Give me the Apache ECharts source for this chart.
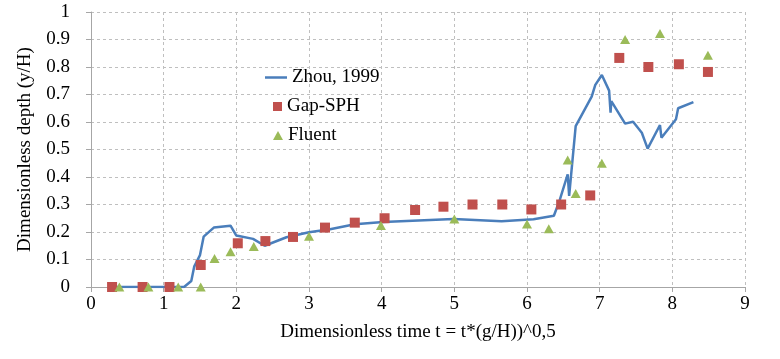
<!DOCTYPE html>
<html>
<head>
<meta charset="utf-8">
<script src="https://cdn.jsdelivr.net/npm/echarts@6/dist/echarts.min.js"></script>
<style>
html, body { margin: 0; padding: 0; background: #fff; }
#main { width: 780px; height: 359px; }
</style>
</head>
<body>
<div id="main"></div>
<script>
// Zhou, 1999 (courbe)
var zhouX = [0.30, 1.28, 1.38, 1.42, 1.50, 1.55, 1.69, 1.92, 2.00, 2.23, 2.39, 2.69, 3.00, 3.29, 3.63, 4.02, 4.99, 5.65, 6.09, 6.37, 6.45, 6.56, 6.58, 6.67, 6.89, 6.94, 7.03, 7.13, 7.15, 7.16, 7.35, 7.46, 7.58, 7.66, 7.83, 7.85, 8.05, 8.08, 8.29];
var zhouY = [0, 0, 0.022, 0.074, 0.116, 0.183, 0.216, 0.223, 0.187, 0.175, 0.150, 0.181, 0.199, 0.210, 0.228, 0.236, 0.247, 0.239, 0.246, 0.259, 0.316, 0.410, 0.331, 0.585, 0.692, 0.735, 0.771, 0.714, 0.634, 0.676, 0.594, 0.601, 0.561, 0.503, 0.589, 0.543, 0.610, 0.650, 0.672];

// Gap-SPH (carrés)
var sphX = [0.29, 0.71, 1.08, 1.51, 2.02, 2.40, 2.78, 3.22, 3.63, 4.04, 4.46, 4.85, 5.25, 5.66, 6.06, 6.47, 6.87, 7.27, 7.67, 8.09, 8.49];
var sphY = [0, 0, 0, 0.080, 0.159, 0.167, 0.182, 0.216, 0.234, 0.250, 0.280, 0.292, 0.300, 0.300, 0.282, 0.300, 0.333, 0.833, 0.800, 0.810, 0.782];

// Fluent (triangles)
var fluentX = [0.39, 0.79, 1.20, 1.51, 1.70, 1.92, 2.24, 3.00, 3.99, 5.00, 6.00, 6.30, 6.56, 6.67, 7.03, 7.35, 7.83, 8.49];
var fluentY = [0, 0, 0, 0, 0.104, 0.128, 0.147, 0.185, 0.224, 0.247, 0.229, 0.212, 0.462, 0.340, 0.450, 0.900, 0.922, 0.843];

function pairs(xs, ys) {
	var out = [];
	for (var i = 0; i < xs.length; i++) {
		out.push([xs[i], ys[i]]);
	}
	return out;
}

var font = 'Liberation Serif';
var legendText = { fontFamily: font, fontSize: 19, color: '#000' };

var dom = document.getElementById('main');
var myChart = echarts.init(dom);

var option = {
	animation: false,
	backgroundColor: '#fff',
	grid: { left: 91, right: 35, top: 12, bottom: 72, containLabel: false },
	legend: [
		// la ligne : un rectangle fin, sans point
		{ data: [{ name: 'Zhou, 1999', icon: 'rect' }], left: 265, top: 68, padding: 0, itemWidth: 22, itemHeight: 2.5, textStyle: legendText },
		{ data: [{ name: 'Gap-SPH', icon: 'rect' }], left: 273, top: 97, padding: 0, itemWidth: 9, itemHeight: 9, textStyle: legendText },
		{ data: [{ name: 'Fluent', icon: 'triangle' }], left: 273, top: 126, padding: 0, itemWidth: 10, itemHeight: 9, textStyle: legendText }
	],
	xAxis: {
		type: 'value',
		min: 0,
		max: 9,
		interval: 1,
		name: 'Dimensionless time t = t*(g/H))^0,5',
		nameLocation: 'middle',
		nameGap: 36,
		nameTextStyle: { fontFamily: font, fontSize: 19, color: '#000' },
		axisLine: { lineStyle: { color: '#a6a6a6', width: 1 } },
		axisTick: { show: true, length: 5, lineStyle: { color: '#a6a6a6' } },
		axisLabel: { fontFamily: font, fontSize: 19, color: '#000', margin: 8 },
		splitLine: { show: true, lineStyle: { color: '#bfbfbf', type: [3, 3] } }
	},
	yAxis: {
		type: 'value',
		min: 0,
		max: 1,
		interval: 0.1,
		name: 'Dimensionless depth (y/H)',
		nameLocation: 'middle',
		nameRotate: 90,
		nameGap: 56,
		nameTextStyle: { fontFamily: font, fontSize: 19, color: '#000' },
		axisLine: { show: true, lineStyle: { color: '#a6a6a6', width: 1 } },
		axisTick: { show: true, length: 5, lineStyle: { color: '#a6a6a6' } },
		axisLabel: { fontFamily: font, fontSize: 19, color: '#000', margin: 21 },
		splitLine: { show: true, lineStyle: { color: '#bfbfbf', type: [3, 3] } }
	},
	series: [
		{
			name: 'Zhou, 1999',
			type: 'line',
			data: pairs(zhouX, zhouY),
			symbol: 'none',
			lineStyle: { color: '#4a7ebb', width: 2.5 },
			itemStyle: { color: '#4a7ebb' },
			z: 3
		},
		{
			name: 'Gap-SPH',
			type: 'scatter',
			data: pairs(sphX, sphY),
			symbol: 'rect',
			symbolSize: 10,
			itemStyle: { color: '#c0504d', opacity: 1 },
			z: 4
		},
		{
			name: 'Fluent',
			type: 'scatter',
			data: pairs(fluentX, fluentY),
			symbol: 'triangle',
			symbolSize: [10, 9],
			itemStyle: { color: '#9bbb59', opacity: 1 },
			z: 5
		}
	]
};

myChart.setOption(option);
</script>
</body>
</html>
